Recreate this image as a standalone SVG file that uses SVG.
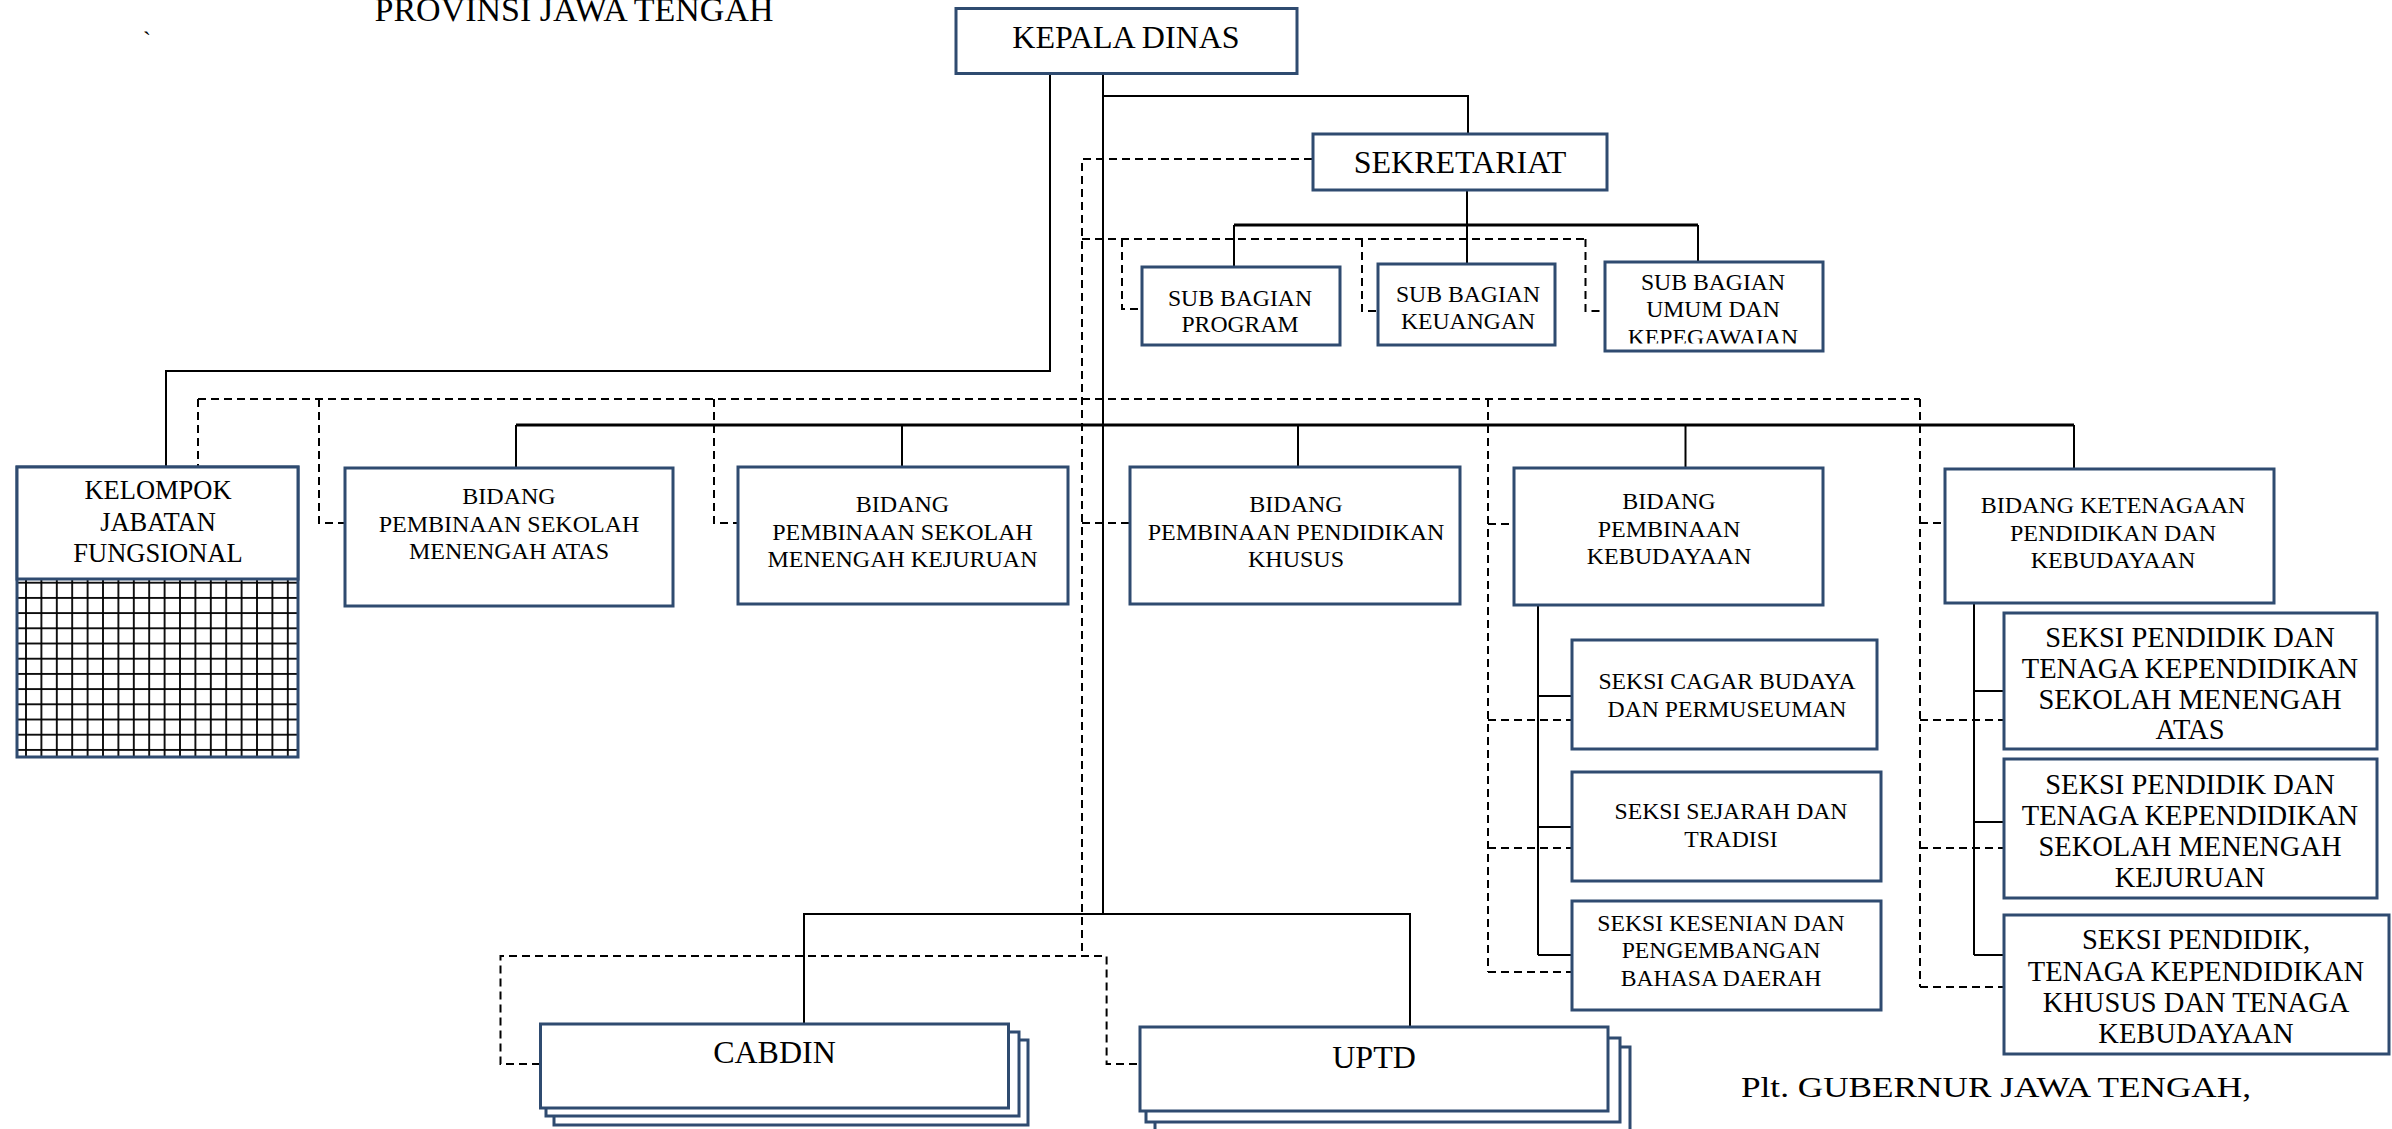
<svg xmlns="http://www.w3.org/2000/svg" width="2392" height="1129" viewBox="0 0 2392 1129">
<style>
.box{fill:#fff;stroke:#2f4b70;stroke-width:3}
.ln{fill:none;stroke:#000;stroke-width:2}
.ln3{fill:none;stroke:#000;stroke-width:3}
.dash{fill:none;stroke:#000;stroke-width:2;stroke-dasharray:8 5}
.t{font-family:"Liberation Serif","Times New Roman",serif;fill:#000;text-anchor:middle}
.f32{font-size:32px}.f24{font-size:24px}.f237{font-size:23.7px}.f265{font-size:26.5px}.f28{font-size:28.5px}
</style>
<defs>
<pattern id="grid" patternUnits="userSpaceOnUse" x="18.3" y="575.1" width="15.4" height="15.2">
<rect width="15.4" height="15.2" fill="#fff"/>
<line x1="7.7" y1="0" x2="7.7" y2="15.2" stroke="#000" stroke-width="1.8"/>
<line x1="0" y1="7.6" x2="15.4" y2="7.6" stroke="#000" stroke-width="1.8"/>
</pattern>
<clipPath id="clipProg"><rect x="1142" y="267" width="198" height="65"/></clipPath>
<clipPath id="clipUmum"><rect x="1605" y="262" width="218" height="81.5"/></clipPath>
</defs>

<g id="header-texts">
<text class="t" x="574" y="21" style="font-size:34px">PROVINSI JAWA TENGAH</text>
<text x="143" y="48" style="font-family:'Liberation Serif',serif;font-size:24px">`</text>
<text x="1741" y="1097" textLength="510" lengthAdjust="spacingAndGlyphs" style="font-family:'Liberation Serif','Times New Roman',serif;font-size:30px">Plt. GUBERNUR JAWA TENGAH,</text>
</g>

<g id="connectors">
<polyline class="ln" points="1050,74 1050,371 166,371 166,467"/>
<line class="ln" x1="1103" y1="74" x2="1103" y2="914"/>
<polyline class="ln" points="1103,96 1468,96 1468,134"/>
<line class="ln" x1="1467" y1="191" x2="1467" y2="225"/>
<line class="ln3" x1="1234" y1="225" x2="1698" y2="225"/>
<line class="ln" x1="1234" y1="225" x2="1234" y2="267"/>
<line class="ln" x1="1467" y1="225" x2="1467" y2="264"/>
<line class="ln" x1="1698" y1="225" x2="1698" y2="262"/>
<line class="ln3" x1="516" y1="425" x2="2074" y2="425"/>
<line class="ln" x1="516" y1="425" x2="516" y2="468"/>
<line class="ln" x1="902" y1="425" x2="902" y2="467"/>
<line class="ln" x1="1298" y1="425" x2="1298" y2="467"/>
<line class="ln" x1="1685.5" y1="425" x2="1685.5" y2="468"/>
<line class="ln" x1="2074" y1="425" x2="2074" y2="469"/>
<polyline class="ln" points="804,1024 804,914 1410,914 1410,1027"/>
<line class="ln" x1="1538" y1="606" x2="1538" y2="955"/>
<line class="ln" x1="1538" y1="696" x2="1572" y2="696"/>
<line class="ln" x1="1538" y1="827" x2="1572" y2="827"/>
<line class="ln" x1="1538" y1="955" x2="1572" y2="955"/>
<line class="ln" x1="1974" y1="604" x2="1974" y2="955"/>
<line class="ln" x1="1974" y1="691" x2="2004" y2="691"/>
<line class="ln" x1="1974" y1="822" x2="2004" y2="822"/>
<line class="ln" x1="1974" y1="955" x2="2004" y2="955"/>

<polyline class="dash" points="1312,159 1082,159 1082,956"/>
<line class="dash" x1="1082" y1="239" x2="1585.5" y2="239"/>
<polyline class="dash" points="1122,239 1122,309 1142,309"/>
<polyline class="dash" points="1362,239 1362,311 1378,311"/>
<polyline class="dash" points="1585.5,239 1585.5,311 1605,311"/>
<line class="dash" x1="198" y1="399" x2="1920" y2="399"/>
<line class="dash" x1="198" y1="399" x2="198" y2="467"/>
<polyline class="dash" points="319,399 319,523 345,523"/>
<polyline class="dash" points="714,399 714,523 738,523"/>
<line class="dash" x1="1082" y1="523" x2="1130" y2="523"/>
<line class="dash" x1="1488" y1="399" x2="1488" y2="972"/>
<line class="dash" x1="1488" y1="524" x2="1514" y2="524"/>
<line class="dash" x1="1488" y1="720" x2="1572" y2="720"/>
<line class="dash" x1="1488" y1="848" x2="1572" y2="848"/>
<line class="dash" x1="1488" y1="972" x2="1572" y2="972"/>
<line class="dash" x1="1920" y1="399" x2="1920" y2="987"/>
<line class="dash" x1="1920" y1="523" x2="1945" y2="523"/>
<line class="dash" x1="1920" y1="720" x2="2004" y2="720"/>
<line class="dash" x1="1920" y1="848" x2="2004" y2="848"/>
<line class="dash" x1="1920" y1="987" x2="2004" y2="987"/>
<polyline class="dash" points="540,1064 500.5,1064 500.5,956 1106.6,956 1106.6,1064 1140,1064"/>
</g>

<g id="kepala-dinas">
<rect class="box" x="956" y="8.5" width="341" height="65"/>
<text class="t f32" x="1126" y="48">KEPALA DINAS</text>
</g>
<g id="sekretariat">
<rect class="box" x="1313" y="134" width="294" height="56"/>
<text class="t f32" x="1460" y="172.5">SEKRETARIAT</text>
</g>
<g id="sub-bagian-program">
<rect class="box" x="1142" y="267" width="198" height="78"/>
<g clip-path="url(#clipProg)">
<text class="t f237" x="1240" y="305.7">SUB BAGIAN</text>
<text class="t f237" x="1240" y="332">PROGRAM</text>
</g>
</g>
<g id="sub-bagian-keuangan">
<rect class="box" x="1378" y="264" width="177" height="81"/>
<text class="t f237" x="1468" y="301.7">SUB BAGIAN</text>
<text class="t f237" x="1468" y="329">KEUANGAN</text>
</g>
<g id="sub-bagian-umum">
<rect class="box" x="1605" y="262" width="218" height="89"/>
<g clip-path="url(#clipUmum)">
<text class="t f237" x="1713" y="290">SUB BAGIAN</text>
<text class="t f237" x="1713" y="316.7">UMUM DAN</text>
<text class="t f237" x="1713" y="345">KEPEGAWAIAN</text>
</g>
</g>

<g id="kelompok-jabatan-fungsional">
<rect x="17" y="579" width="281" height="178" fill="url(#grid)"/>
<rect class="box" x="17" y="467" width="281" height="290" fill="none" style="fill:none"/>
<rect class="box" x="17" y="467" width="281" height="112"/>
<text class="t f265" x="158" y="499.3">KELOMPOK</text>
<text class="t f265" x="158" y="530.7">JABATAN</text>
<text class="t f265" x="158" y="561.7">FUNGSIONAL</text>
</g>

<g id="bidang-sma">
<rect class="box" x="345" y="468" width="328" height="138"/>
<text class="t f24" x="509" y="504">BIDANG</text>
<text class="t f24" x="509" y="531.7">PEMBINAAN SEKOLAH</text>
<text class="t f24" x="509" y="559.3">MENENGAH ATAS</text>
</g>
<g id="bidang-smk">
<rect class="box" x="738" y="467" width="330" height="137"/>
<text class="t f24" x="902.5" y="511.7">BIDANG</text>
<text class="t f24" x="902.5" y="540">PEMBINAAN SEKOLAH</text>
<text class="t f24" x="902.5" y="567.3">MENENGAH KEJURUAN</text>
</g>
<g id="bidang-ppk">
<rect class="box" x="1130" y="467" width="330" height="137"/>
<text class="t f24" x="1296" y="511.7">BIDANG</text>
<text class="t f24" x="1296" y="540">PEMBINAAN PENDIDIKAN</text>
<text class="t f24" x="1296" y="567.3">KHUSUS</text>
</g>
<g id="bidang-kebudayaan">
<rect class="box" x="1514" y="468" width="309" height="137"/>
<text class="t f24" x="1669" y="509">BIDANG</text>
<text class="t f24" x="1669" y="536.7">PEMBINAAN</text>
<text class="t f24" x="1669" y="564.3">KEBUDAYAAN</text>
</g>
<g id="bidang-ketenagaan">
<rect class="box" x="1945" y="469" width="329" height="134"/>
<text class="t f24" x="2113" y="513.3">BIDANG KETENAGAAN</text>
<text class="t f24" x="2113" y="540.7">PENDIDIKAN DAN</text>
<text class="t f24" x="2113" y="568.3">KEBUDAYAAN</text>
</g>

<g id="seksi-cagar-budaya">
<rect class="box" x="1572" y="640" width="305" height="109"/>
<text class="t f237" x="1727" y="689.3">SEKSI CAGAR BUDAYA</text>
<text class="t f237" x="1727" y="716.7">DAN PERMUSEUMAN</text>
</g>
<g id="seksi-sejarah">
<rect class="box" x="1572" y="772" width="309" height="109"/>
<text class="t f237" x="1731" y="819">SEKSI SEJARAH DAN</text>
<text class="t f237" x="1731" y="846.7">TRADISI</text>
</g>
<g id="seksi-kesenian">
<rect class="box" x="1572" y="901" width="309" height="109"/>
<text class="t f237" x="1721" y="930.7">SEKSI KESENIAN DAN</text>
<text class="t f237" x="1721" y="957.7">PENGEMBANGAN</text>
<text class="t f237" x="1721" y="985.7">BAHASA DAERAH</text>
</g>

<g id="seksi-ptk-sma">
<rect class="box" x="2004" y="613" width="373" height="136"/>
<text class="t f28" x="2190" y="646.7">SEKSI PENDIDIK DAN</text>
<text class="t f28" x="2190" y="678.3">TENAGA KEPENDIDIKAN</text>
<text class="t f28" x="2190" y="709">SEKOLAH MENENGAH</text>
<text class="t f28" x="2190" y="739.3">ATAS</text>
</g>
<g id="seksi-ptk-smk">
<rect class="box" x="2004" y="759" width="373" height="139"/>
<text class="t f28" x="2190" y="794">SEKSI PENDIDIK DAN</text>
<text class="t f28" x="2190" y="825">TENAGA KEPENDIDIKAN</text>
<text class="t f28" x="2190" y="856">SEKOLAH MENENGAH</text>
<text class="t f28" x="2190" y="887.3">KEJURUAN</text>
</g>
<g id="seksi-ptk-khusus">
<rect class="box" x="2004" y="915" width="385" height="139"/>
<text class="t f28" x="2196" y="949.3">SEKSI PENDIDIK,</text>
<text class="t f28" x="2196" y="980.7">TENAGA KEPENDIDIKAN</text>
<text class="t f28" x="2196" y="1012.3">KHUSUS DAN TENAGA</text>
<text class="t f28" x="2196" y="1043.3">KEBUDAYAAN</text>
</g>

<g id="cabdin">
<rect class="box" x="554" y="1040" width="474" height="85"/>
<rect class="box" x="546" y="1032" width="473" height="84"/>
<rect class="box" x="540.5" y="1024" width="468" height="84"/>
<text class="t f32" x="774.5" y="1063">CABDIN</text>
</g>
<g id="uptd">
<rect class="box" x="1155" y="1047" width="475" height="85"/>
<rect class="box" x="1146" y="1038" width="474" height="84"/>
<rect class="box" x="1140" y="1027" width="468" height="84"/>
<text class="t f32" x="1374" y="1067.7">UPTD</text>
</g>
</svg>
